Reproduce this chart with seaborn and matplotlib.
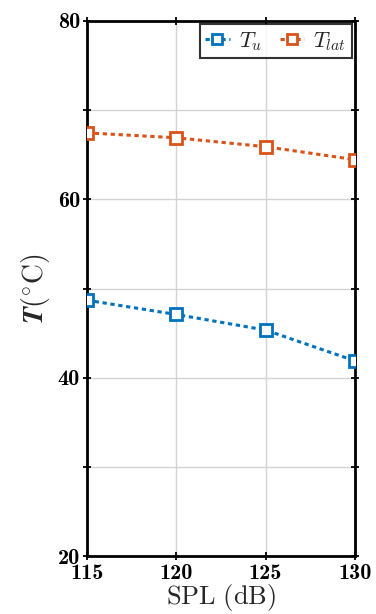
import matplotlib
matplotlib.use("Agg")
import matplotlib.pyplot as plt
import seaborn as sns
import pandas as pd

spl = [115, 120, 125, 130]
t_u = [48.7, 47.1, 45.35, 41.9]
t_lat = [67.45, 66.9, 65.9, 64.45]
series_labels = [r"$T_u$", r"$T_{lat}$"]
series_colors = ["#0072BD", "#D95319"]
x_ticks = [115, 120, 125, 130]
y_ticks = [20, 30, 40, 50, 60, 70, 80]
y_ticklabels = ["20", "", "40", "", "60", "", "80"]

sns.set_style("white")
plt.rcParams["mathtext.fontset"] = "cm"
plt.rcParams["font.family"] = ["DejaVu Serif"]

fig = plt.figure(figsize=(3.76, 6.14), dpi=100)
ax = fig.add_axes([0.231, 0.094, 0.713, 0.872])

for vals, lab, col in zip([t_u, t_lat], series_labels, series_colors):
    df = pd.DataFrame({"SPL": spl, "T": vals})
    sns.lineplot(data=df, x="SPL", y="T", ax=ax, color=col, label=lab,
                 linewidth=2.2, dashes=(1.4, 1.2), marker="s", markersize=8,
                 markerfacecolor="white", markeredgecolor=col, markeredgewidth=2,
                 zorder=3)

ax.set_xlim(115, 130)
ax.set_ylim(20, 80)
ax.set_xticks(x_ticks)
ax.set_xticklabels([str(v) for v in x_ticks], fontsize=16, family="cmb10")
ax.set_yticks(y_ticks)
ax.set_yticklabels(y_ticklabels, fontsize=16, family="cmb10")
ax.tick_params(direction="inout", length=6, width=1.3, top=True, right=True,
               bottom=True, left=True, colors="black")
ax.tick_params(axis="x", pad=2.5)
ax.tick_params(axis="y", pad=2)
ax.grid(True, color="#d4d4d4", linewidth=1)
for sp in ax.spines.values():
    sp.set_linewidth(2)
    sp.set_color("black")

ax.set_xlabel(r"$\mathrm{SPL\ (dB)}$", fontsize=19, labelpad=-1)
ax.set_ylabel(r"$\boldsymbol{T}(^{\circ}\mathrm{C})$", fontsize=20, labelpad=4)

leg = ax.legend(loc="upper right", ncol=2, fontsize=16, frameon=True, fancybox=False,
                handlelength=1.1, handletextpad=0.4, columnspacing=0.8,
                borderaxespad=0.15, borderpad=0.25)
leg.get_frame().set_edgecolor("black")
leg.get_frame().set_linewidth(1.5)
for h in leg.get_lines():
    h.set_markersize(7)

fig.savefig("out.png", dpi=100)
